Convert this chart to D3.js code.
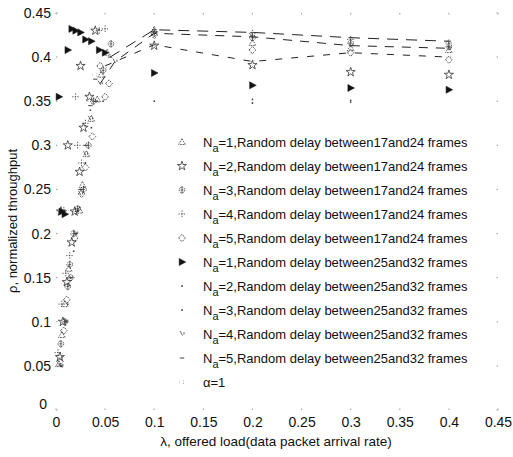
<!DOCTYPE html>
<html><head><meta charset="utf-8">
<script src="https://cdn.jsdelivr.net/npm/d3@7"></script>
<style>
html,body{margin:0;padding:0;background:#fff;}
text{font-family:"Liberation Sans",Arial,sans-serif;fill:#111;}
</style></head>
<body>
<svg id="chart" width="513" height="457"></svg>
<script>
// ---- tick labels ----
const xTicks = [0,0.05,0.1,0.15,0.2,0.25,0.3,0.35,0.4,0.45];
const yTicks = [0,0.05,0.1,0.15,0.2,0.25,0.3,0.35,0.4,0.45];

// ---- series (λ, ρ) ----
const s1Lam = [0.003,0.006,0.009,0.013,0.024,0.027,0.031,0.036,0.042,0.046,0.052,0.1,0.2,0.3,0.4];
const s1Rho = [0.052,0.085,0.12,0.16,0.226,0.255,0.29,0.33,0.352,0.38,0.405,0.431,0.416,0.41,0.408];
const s2Lam = [0.004,0.007,0.011,0.016,0.005,0.019,0.024,0.012,0.028,0.034,0.025,0.04,0.1,0.2,0.3,0.4];
const s2Rho = [0.06,0.1,0.145,0.19,0.225,0.225,0.27,0.3,0.32,0.355,0.39,0.43,0.413,0.391,0.383,0.38];
const s3Lam = [0.005,0.009,0.012,0.014,0.018,0.022,0.028,0.033,0.038,0.048,0.056,0.1,0.2,0.3,0.4];
const s3Rho = [0.075,0.1,0.14,0.165,0.2,0.228,0.25,0.3,0.35,0.385,0.415,0.427,0.422,0.416,0.412];
const s4Lam = [0.002,0.006,0.01,0.014,0.008,0.02,0.026,0.022,0.03,0.02,0.044,0.05,0.1,0.2,0.3,0.4];
const s4Rho = [0.065,0.12,0.155,0.175,0.226,0.225,0.28,0.3,0.325,0.355,0.43,0.432,0.429,0.427,0.42,0.416];
const s5Lam = [0.004,0.008,0.011,0.015,0.019,0.026,0.03,0.037,0.05,0.054,0.045,0.1,0.2,0.3,0.4];
const s5Rho = [0.055,0.09,0.125,0.15,0.195,0.245,0.275,0.31,0.355,0.37,0.39,0.425,0.408,0.405,0.397];
const s6Lam = [0.006,0.009,0.003,0.012,0.016,0.02,0.025,0.03,0.036,0.044,0.05,0.1,0.2,0.3,0.4];
const s6Rho = [0.225,0.222,0.355,0.408,0.432,0.43,0.428,0.42,0.418,0.408,0.405,0.382,0.368,0.365,0.363];
const s7Lam = [0.005,0.01,0.015,0.02,0.025,0.03,0.035,0.04,0.1,0.2,0.3];
const s7Rho = [0.05,0.1,0.15,0.2,0.25,0.3,0.34,0.35,0.35,0.352,0.351];
const s8Lam = [0.006,0.012,0.018,0.024,0.03,0.036,0.042,0.048,0.2,0.3];
const s8Rho = [0.06,0.12,0.18,0.23,0.28,0.32,0.35,0.35,0.348,0.349];
const s9Lam = [0.005,0.01,0.015,0.02,0.025,0.03,0.035,0.045,0.06,0.1,0.2,0.3,0.4];
const s9Rho = [0.05,0.1,0.15,0.2,0.245,0.29,0.33,0.37,0.395,0.427,0.423,0.413,0.41];
const s10Lam = [0.005,0.01,0.015,0.02,0.025,0.03,0.035,0.04,0.055,0.1,0.2,0.3,0.4];
const s10Rho = [0.05,0.1,0.15,0.2,0.25,0.3,0.345,0.375,0.4,0.431,0.428,0.422,0.418];
const aLam = [0.005,0.01,0.015,0.02,0.025,0.03,0.035,0.04,0.05,0.1,0.2,0.3,0.4];
const aRho = [0.05,0.1,0.15,0.2,0.25,0.3,0.35,0.38,0.39,0.414,0.395,0.405,0.4];

const legendLabels = [
  ["1","17","24"],["2","17","24"],["3","17","24"],["4","17","24"],["5","17","24"],
  ["1","25","32"],["2","25","32"],["3","25","32"],["4","25","32"],["5","25","32"]
];

// lines are only visible from the saturation knee onward in the original
const lineFrom = 0.045;
const series = [
  {lam:s1Lam, rho:s1Rho, marker:"tri", line:false},
  {lam:s2Lam, rho:s2Rho, marker:"star", line:false},
  {lam:s3Lam, rho:s3Rho, marker:"circplus", line:false},
  {lam:s4Lam, rho:s4Rho, marker:"plus", line:false},
  {lam:s5Lam, rho:s5Rho, marker:"diamond", line:false},
  {lam:s6Lam, rho:s6Rho, marker:"filltri", line:false},
  {lam:s7Lam, rho:s7Rho, marker:"dot", line:false},
  {lam:s8Lam, rho:s8Rho, marker:"dot", line:false},
  {lam:s9Lam, rho:s9Rho, marker:"slash", line:true, dash:"9,8"},
  {lam:s10Lam, rho:s10Rho, marker:"dash", line:true, dash:"11,8"},
  {lam:aLam, rho:aRho, marker:"dots", line:true, dash:"7,9"}
];

const svg = d3.select("#chart");
const x = d3.scaleLinear().domain([0,0.45]).range([56,498]);
const y = d3.scaleLinear().domain([0,0.45]).range([410,13]);

// faint tick marks (no axis lines, like the scan)
const tickG = svg.append("g").attr("fill","#aaa");
xTicks.forEach(t=>{
  tickG.append("rect").attr("x",x(t)-0.6).attr("y",y(0.45)).attr("width",1.2).attr("height",1.5);
  tickG.append("rect").attr("x",x(t)-0.6).attr("y",y(0)-1.5).attr("width",1.2).attr("height",1.5);
});
yTicks.forEach(t=>{
  tickG.append("rect").attr("x",x(0)).attr("y",y(t)-0.6).attr("width",1.5).attr("height",1.2);
  tickG.append("rect").attr("x",x(0.45)-1.5).attr("y",y(t)-0.6).attr("width",1.5).attr("height",1.2);
});

const xAxis = svg.append("g").attr("transform",`translate(0,${y(0)})`)
  .call(d3.axisBottom(x).tickValues(xTicks).tickFormat(d=>d3.format("~g")(d)).tickSize(0).tickPadding(7));
const yAxis = svg.append("g").attr("transform",`translate(${x(0)},0)`)
  .call(d3.axisLeft(y).tickValues(yTicks).tickFormat(d=>d3.format("~g")(d)).tickSize(0).tickPadding(5));
[xAxis,yAxis].forEach(a=>{
  a.select(".domain").remove();
  a.selectAll("text").style("font-family","'Liberation Sans',Arial,sans-serif").style("font-size","14px").attr("fill","#111");
});
yAxis.selectAll(".tick").filter(d=>d===0).select("text").attr("dy","-0.1em").attr("x",-9);

svg.append("text").attr("x",276).attr("y",446).attr("text-anchor","middle")
  .style("font-size","13.5px").text("λ, offered load(data packet arrival rate)");
svg.append("text").attr("transform","translate(17,221) rotate(-90)").attr("text-anchor","middle")
  .style("font-size","13px").text("ρ, normalized throughput");

function drawMarker(g, type){
  const st = "#333";
  switch(type){
    case "tri":
      g.append("path").attr("d","M0,-3.5L3.3,2.5L-3.3,2.5Z").attr("fill","none").attr("stroke",st).attr("stroke-width",0.8).attr("stroke-dasharray","1.6,1"); break;
    case "star":
      g.append("path").attr("d",d3.symbol(d3.symbolStar,26)()).attr("fill","none").attr("stroke",st).attr("stroke-width",0.8); break;
    case "circplus":
      g.append("circle").attr("r",2.8).attr("fill","none").attr("stroke",st).attr("stroke-width",0.8).attr("stroke-dasharray","1.6,0.9");
      g.append("path").attr("d","M0,-3.8V3.8M-1.5,0H1.5").attr("stroke",st).attr("stroke-width",0.7); break;
    case "plus":
      g.append("path").attr("d","M0,-3.5V3.5M-3.5,0H3.5").attr("stroke",st).attr("stroke-width",0.8).attr("stroke-dasharray","1.3,1.3"); break;
    case "diamond":
      g.append("path").attr("d","M-3.3,0L0,-3.8L3.3,0L0,3.8Z").attr("fill","none").attr("stroke",st).attr("stroke-width",0.8).attr("stroke-dasharray","2,1.1"); break;
    case "filltri":
      g.append("path").attr("d","M-2.8,-3.5L3.8,0L-2.8,3.5Z").attr("fill","#111").attr("stroke","#222").attr("stroke-width",0.6); break;
    case "dot":
      g.append("circle").attr("r",0.9).attr("fill","#444"); break;
    case "slash":
      g.append("path").attr("d","M-2,-3L0.5,1.5M2,-2L2,0.5").attr("stroke","#444").attr("stroke-width",0.8); break;
    case "dash":
      g.append("path").attr("d","M-2.2,0H2.2").attr("stroke","#444").attr("stroke-width",1); break;
    case "dots":
      g.append("path").attr("d","M-3,0H-2M1,-1H2M1,1.5H2").attr("stroke","#999").attr("stroke-width",0.8); break;
  }
}

const lineGen = d3.line().x(d=>x(d[0])).y(d=>y(d[1]));
series.forEach(s=>{
  const pts = s.lam.map((l,i)=>[l,s.rho[i]]);
  if(s.line){
    const lp = pts.filter(p=>p[0]>=lineFrom);
    svg.append("path").datum(lp).attr("d",lineGen).attr("fill","none")
      .attr("stroke","#222").attr("stroke-width",1).attr("stroke-dasharray",s.dash);
  }
  pts.forEach(p=>{
    const g = svg.append("g").attr("transform",`translate(${x(p[0])},${y(p[1])})`);
    drawMarker(g, s.marker);
  });
});

// legend
const lg = svg.append("g");
legendLabels.forEach((lab,i)=>{
  const cy = 142 + 24*i;
  const mg = lg.append("g").attr("transform",`translate(182,${cy})`);
  drawMarker(mg, series[i].marker);
  const t = lg.append("text").attr("x",203).attr("y",cy+5).style("font-size","13px");
  t.append("tspan").text("N");
  t.append("tspan").attr("dy",5).style("font-size","11px").text("a");
  t.append("tspan").attr("dy",-5).text(`=${lab[0]},Random delay between${lab[1]}and${lab[2]} frames`);
});
{
  const cy = 142 + 24*10;
  const mg = lg.append("g").attr("transform",`translate(182,${cy})`);
  drawMarker(mg, "dots");
  lg.append("text").attr("x",203).attr("y",cy+5).style("font-size","13px").text("α=1");
}
</script>
</body></html>
